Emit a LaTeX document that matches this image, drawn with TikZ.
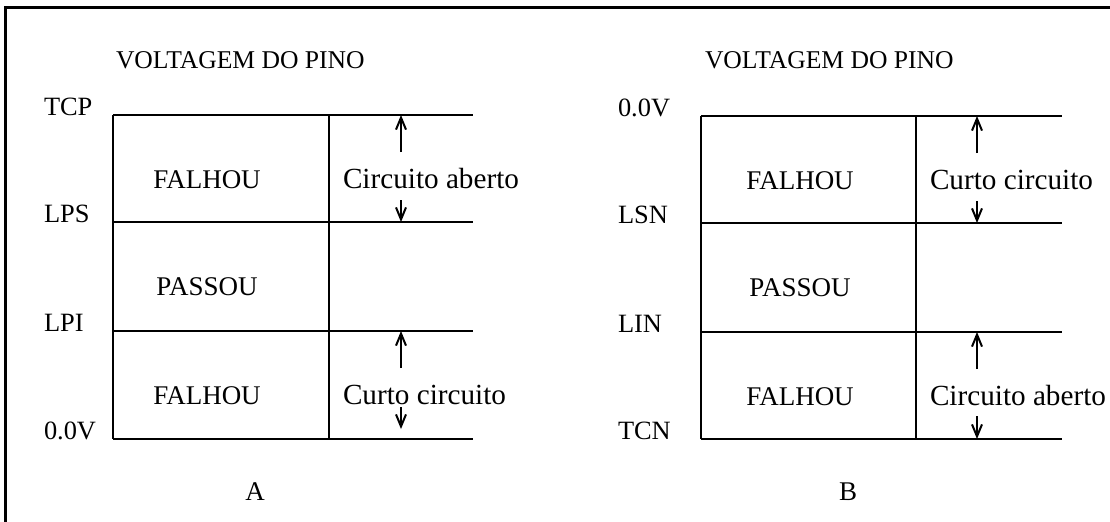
\documentclass[tikz,border=0pt]{standalone}
\usepackage{fontspec}
\setmainfont{Liberation Serif}
\usetikzlibrary{arrows.meta, positioning, calc}
\tikzset{
  every picture/.style={line width=1pt},
  frame/.style={line width=1.5pt},
  grid/.style={line width=1pt},
  head/.style={font=\fontsize{12.8}{15}\selectfont, inner sep=0pt, anchor=base west},
  lvl/.style={font=\fontsize{13.2}{16}\selectfont, inner sep=0pt, anchor=base west},
  cell/.style={font=\fontsize{13.5}{16}\selectfont, inner sep=0pt, anchor=base},
  gap/.style={font=\fontsize{14.6}{17}\selectfont, inner sep=0pt, anchor=base west},
  band/.style={-{Straight Barb[length=6pt, width=5pt]}, line width=1pt},
}
\begin{document}
\begin{tikzpicture}[x=0.5pt, y=-0.5pt]
  \useasboundingbox (0,0) rectangle (1110,521);
  % frame (runs off the page on the right and bottom)
  \coordinate (fbl) at (5,540);
  \coordinate (ftl) at (5,7);
  \coordinate (ftr) at (1130,7);
  \draw[frame] (fbl) -- (ftl) -- (ftr);

  % diagram A
  \node[head] (voltA) at (115,68) {VOLTAGEM DO PINO};
  \node[lvl] (tcp) at (43,115) {TCP};
  \node[lvl] (lps) at (43,222) {LPS};
  \node[lvl] (lpi) at (43,331) {LPI};
  \node[lvl] (zeroA) at (43,439) {0.0V};
  \coordinate (a1) at (113,115); \coordinate (a1e) at (473,115);
  \coordinate (a2) at (113,222); \coordinate (a2e) at (473,222);
  \coordinate (a3) at (113,331); \coordinate (a3e) at (473,331);
  \coordinate (a4) at (113,439); \coordinate (a4e) at (473,439);
  \coordinate (da) at (329,115);
  \draw[grid] (a1) -- (a1e);
  \draw[grid] (a2) -- (a2e);
  \draw[grid] (a3) -- (a3e);
  \draw[grid] (a4) -- (a4e);
  \draw[grid] (a1) -- (a4);
  \draw[grid] (da) -- (da |- a4);
  \node[cell] (failA1) at (207,188) {FALHOU};
  \node[cell] (passA) at (207,295) {PASSOU};
  \node[cell] (failA2) at (207,404) {FALHOU};
  \node[gap] (openA) at (342,188) {Circuito aberto};
  \node[gap] (shortA) at (342,404) {Curto circuito};
  \coordinate (upA1) at (401,152);
  \coordinate (dnA1) at (401,200);
  \coordinate (upA2) at (401,368);
  \coordinate (dnA2) at (401,407);
  \coordinate (dnA2t) at (401,429);
  \draw[band] (upA1) -- (upA1 |- a1);
  \draw[band] (dnA1) -- (dnA1 |- a2);
  \draw[band] (upA2) -- (upA2 |- a3);
  \draw[band] (dnA2) -- (dnA2t);
  \node[cell] (capA) at (255,500) {A};

  % diagram B
  \node[head] (voltB) at (704,68) {VOLTAGEM DO PINO};
  \node[lvl] (zeroB) at (617,116) {0.0V};
  \node[lvl] (lsn) at (617,223) {LSN};
  \node[lvl] (lin) at (617,332) {LIN};
  \node[lvl] (tcn) at (617,439) {TCN};
  \coordinate (b1) at (701,116); \coordinate (b1e) at (1062,116);
  \coordinate (b2) at (701,223); \coordinate (b2e) at (1062,223);
  \coordinate (b3) at (701,332); \coordinate (b3e) at (1062,332);
  \coordinate (b4) at (701,439); \coordinate (b4e) at (1062,439);
  \coordinate (db) at (916,116);
  \draw[grid] (b1) -- (b1e);
  \draw[grid] (b2) -- (b2e);
  \draw[grid] (b3) -- (b3e);
  \draw[grid] (b4) -- (b4e);
  \draw[grid] (b1) -- (b4);
  \draw[grid] (db) -- (db |- b4);
  \node[cell] (failB1) at (800,189) {FALHOU};
  \node[cell] (passB) at (800,296) {PASSOU};
  \node[cell] (failB2) at (800,405) {FALHOU};
  \node[gap] (shortB) at (929,189) {Curto circuito};
  \node[gap] (openB) at (929,405) {Circuito aberto};
  \coordinate (upB1) at (977,153);
  \coordinate (dnB1) at (977,201);
  \coordinate (upB2) at (977,369);
  \coordinate (dnB2) at (977,416);
  \draw[band] (upB1) -- (upB1 |- b1);
  \draw[band] (dnB1) -- (dnB1 |- b2);
  \draw[band] (upB2) -- (upB2 |- b3);
  \draw[band] (dnB2) -- (dnB2 |- b4);
  \node[cell] (capB) at (848,500) {B};
\end{tikzpicture}
\end{document}
